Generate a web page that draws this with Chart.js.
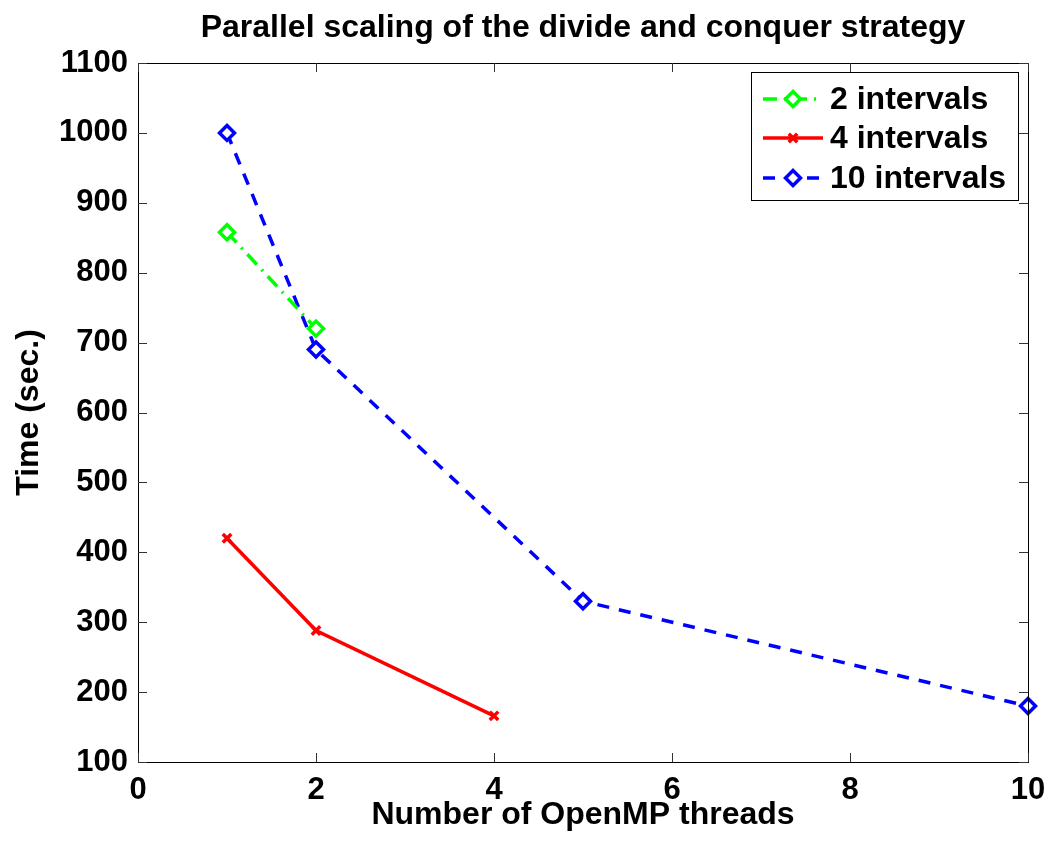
<!DOCTYPE html>
<html>
<head>
<meta charset="utf-8">
<script src="https://cdn.jsdelivr.net/npm/chart.js@4/dist/chart.umd.min.js"></script>
<style>
html,body{margin:0;padding:0;background:#fff;}
#wrap{width:1048px;height:841px;position:relative;}
</style>
</head>
<body>
<div id="wrap"><canvas id="c" width="1048" height="841"></canvas></div>
<script>
const titleText = 'Parallel scaling of the divide and conquer strategy';
const xTitle = 'Number of OpenMP threads';
const yTitle = 'Time (sec.)';
const seriesNames = ['2 intervals', '4 intervals', '10 intervals'];
const threads2 = [1, 2];
const time2 = [858, 720];
const threads4 = [1, 2, 4];
const time4 = [420, 288, 166];
const threads10 = [1, 2, 5, 10];
const time10 = [1000, 690, 330, 180];
const xTicks = [0, 2, 4, 6, 8, 10];
const yTicks = [100, 200, 300, 400, 500, 600, 700, 800, 900, 1000, 1100];

const FONT = '"Liberation Sans", Arial, Helvetica, sans-serif';
const TXT = 32;
const TICK = 31;
const pts = (xs, ys) => xs.map((x, i) => ({x: x, y: ys[i]}));

const frame = {
  id: 'frame',
  afterDatasetsDraw(chart) {
    const {ctx, chartArea: a, scales} = chart;
    ctx.save();
    ctx.strokeStyle = '#000';
    ctx.lineWidth = 1;
    ctx.strokeRect(a.left + 0.5, a.top + 0.5, a.right - a.left, a.bottom - a.top);
    ctx.strokeStyle = '#333';
    const tl = 9;
    ctx.beginPath();
    xTicks.forEach(v => {
      const px = Math.round(scales.x.getPixelForValue(v)) + 0.5;
      ctx.moveTo(px, a.bottom); ctx.lineTo(px, a.bottom - tl);
      ctx.moveTo(px, a.top); ctx.lineTo(px, a.top + tl);
    });
    yTicks.forEach(v => {
      const py = Math.round(scales.y.getPixelForValue(v)) + 0.5;
      ctx.moveTo(a.left, py); ctx.lineTo(a.left + tl, py);
      ctx.moveTo(a.right, py); ctx.lineTo(a.right - tl, py);
    });
    ctx.stroke();
    ctx.restore();
  },
  afterDraw(chart) {
    const ctx = chart.ctx;
    const bx = 751, by = 72, bw = 267, bh = 128;
    ctx.save();
    ctx.fillStyle = '#fff';
    ctx.fillRect(bx, by, bw, bh);
    ctx.strokeStyle = '#000';
    ctx.lineWidth = 1;
    ctx.strokeRect(bx + 0.5, by + 0.5, bw, bh);
    const rows = [99, 138, 178];
    chart.data.datasets.forEach((ds, i) => {
      const y = rows[i];
      ctx.save();
      ctx.strokeStyle = ds.borderColor;
      ctx.lineWidth = ds.borderWidth;
      ctx.setLineDash(ds.borderDash || []);
      ctx.beginPath();
      ctx.moveTo(763, y); ctx.lineTo(823, y);
      ctx.stroke();
      ctx.setLineDash([]);
      ctx.strokeStyle = ds.borderColor;
      ctx.fillStyle = ds.pointBackgroundColor;
      ctx.lineWidth = ds.pointBorderWidth;
      Chart.helpers.drawPoint(ctx, {
        pointStyle: ds.pointStyle, radius: ds.pointRadius, borderWidth: ds.pointBorderWidth, rotation: 0
      }, 793, y);
      ctx.restore();
      ctx.fillStyle = '#000';
      ctx.font = 'bold ' + TXT + 'px ' + FONT;
      ctx.textBaseline = 'middle';
      ctx.textAlign = 'left';
      ctx.fillText(ds.label, 830, y + 1);
    });
    ctx.restore();
  }
};

new Chart(document.getElementById('c'), {
  type: 'line',
  data: {
    datasets: [
      {
        label: seriesNames[0], data: pts(threads2, time2), clip: false,
        borderColor: '#00ff00', borderWidth: 3.5, borderDash: [14, 7, 2, 7],
        pointStyle: 'rectRot', pointRadius: 7.5, pointBorderWidth: 3.5,
        pointBackgroundColor: '#ffffff', pointBorderColor: '#00ff00'
      },
      {
        label: seriesNames[1], data: pts(threads4, time4), clip: false,
        borderColor: '#ff0000', borderWidth: 3.5,
        pointStyle: 'crossRot', pointRadius: 6, pointBorderWidth: 3.5,
        pointBackgroundColor: '#ff0000', pointBorderColor: '#ff0000'
      },
      {
        label: seriesNames[2], data: pts(threads10, time10), clip: false,
        borderColor: '#0000ff', borderWidth: 3.5, borderDash: [12, 10],
        pointStyle: 'rectRot', pointRadius: 7.5, pointBorderWidth: 3.5,
        pointBackgroundColor: '#ffffff', pointBorderColor: '#0000ff'
      }
    ]
  },
  options: {
    responsive: false,
    animation: false,
    devicePixelRatio: 1,
    layout: {padding: {left: 0, right: 20, top: 0, bottom: 0}},
    elements: {line: {tension: 0, fill: false}},
    plugins: {
      legend: {display: false},
      tooltip: {enabled: false},
      title: {
        display: true, text: titleText, color: '#000', fullSize: false,
        font: {family: FONT, size: TXT, weight: 'bold'},
        padding: {top: 9, bottom: 15.6}
      }
    },
    scales: {
      x: {
        type: 'linear', min: 0, max: 10,
        afterFit(s) { s.height = 79; s.paddingLeft = 0; s.paddingRight = 0; },
        afterBuildTicks(s) { s.ticks = xTicks.map(v => ({value: v})); },
        grid: {display: false, drawTicks: false},
        border: {display: false},
        ticks: {color: '#000', padding: 10, maxRotation: 0, callback: v => String(v),
                font: {family: FONT, size: TICK, weight: 'bold'}},
        title: {display: true, text: xTitle, color: '#000', padding: {top: 0, bottom: 7},
                font: {family: FONT, size: TXT, weight: 'bold'}}
      },
      y: {
        type: 'linear', min: 100, max: 1100,
        afterFit(s) { s.width = 138; s.paddingTop = 0; s.paddingBottom = 0; },
        afterBuildTicks(s) { s.ticks = yTicks.map(v => ({value: v})); },
        grid: {display: false, drawTicks: false},
        border: {display: false},
        ticks: {color: '#000', padding: 10, callback: v => String(v),
                font: {family: FONT, size: TICK, weight: 'bold'}},
        title: {display: true, text: yTitle, color: '#000', padding: {top: 10, bottom: 0},
                font: {family: FONT, size: TXT, weight: 'bold'}}
      }
    }
  },
  plugins: [frame]
});
</script>
</body>
</html>
